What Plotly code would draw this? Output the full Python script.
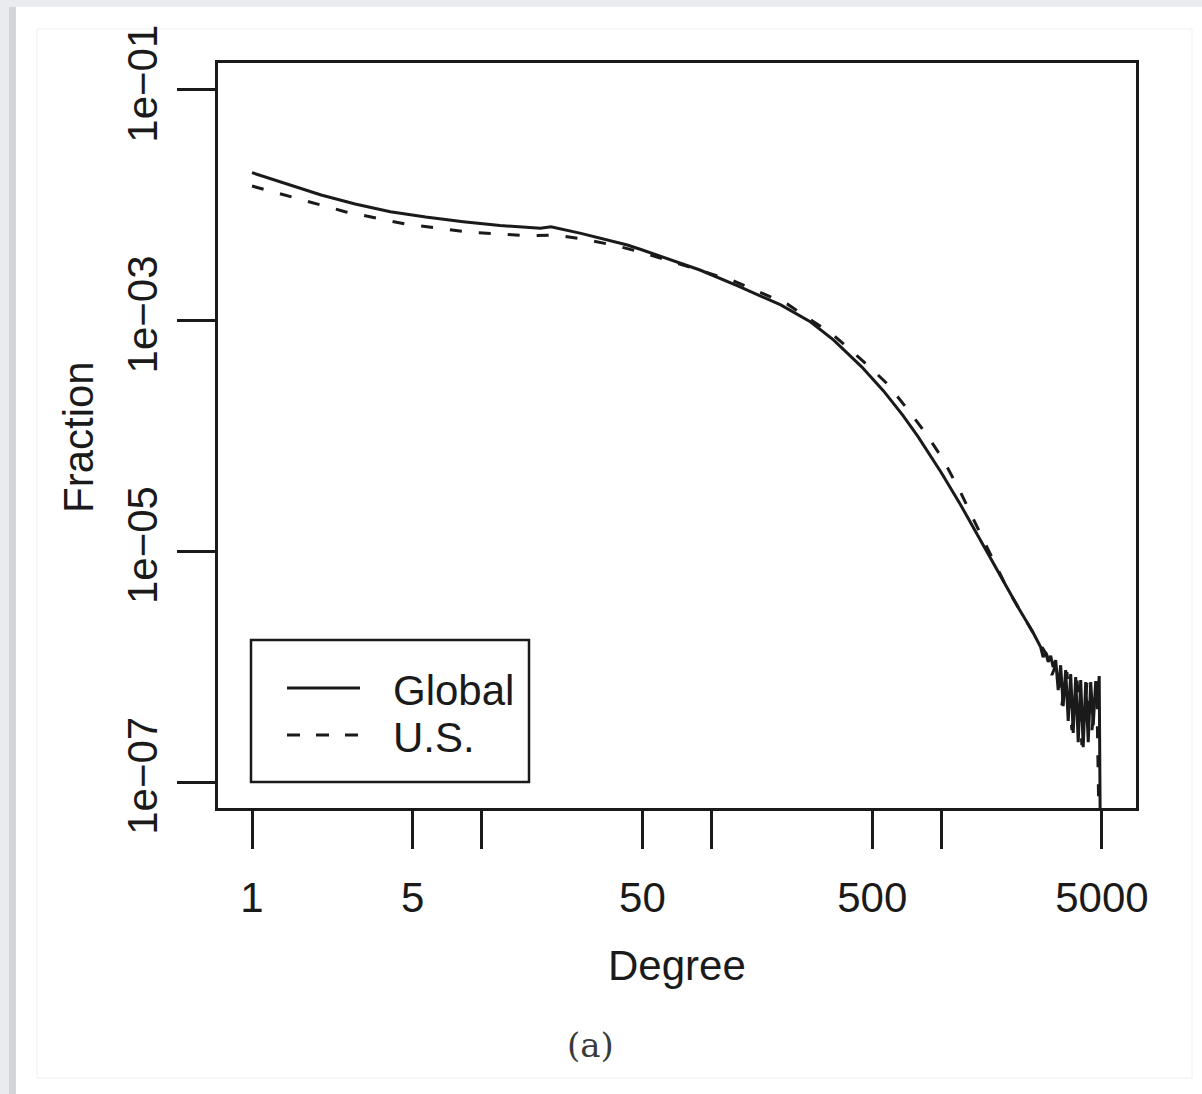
import plotly.graph_objects as go

# ---------------- data ----------------
global_degree = [1, 1.41, 2, 2.81, 4, 5.7, 8.3, 12, 18, 20, 27, 43, 50, 89, 130, 200, 270,
                 340, 450, 560, 680, 790, 1000, 1210, 1500, 1940, 2150, 2500,
                 2704, 2773, 2843, 2916, 2990, 3066, 3144, 3224, 3305, 3389, 3475, 3564,
                 3654, 3747, 3842, 3940, 4040, 4142, 4248, 4356, 4466, 4580, 4696, 4791,
                 4863, 4936]
global_fraction = [1.92e-2, 1.545e-2, 1.23e-2, 1.028e-2, 8.81e-3, 7.92e-3, 7.21e-3, 6.68e-3,
                   6.32e-3, 6.53e-3, 5.71e-3, 4.53e-3, 4.10e-3, 2.75e-3, 2.00e-3, 1.37e-3,
                   9.73e-4, 6.79e-4, 3.98e-4, 2.46e-4, 1.51e-4, 9.93e-5, 4.80e-5, 2.55e-5,
                   1.18e-5, 4.68e-6, 3.31e-6, 2.00e-6,
                   1.48e-6, 1.21e-6, 1.34e-6, 1.10e-6, 1.24e-6, 9.93e-7, 1.14e-6, 6.27e-7,
                   1.03e-6, 4.56e-7, 9.35e-7, 3.38e-7, 8.64e-7, 2.66e-7, 8.13e-7, 2.22e-7,
                   7.66e-7, 2.01e-7, 7.36e-7, 2.22e-7, 7.36e-7, 3.12e-7, 7.51e-7, 5.14e-7,
                   8.30e-7, 1e-8]

us_degree = [1, 1.42, 2.54, 4.64, 8.47, 15.5, 20.9, 28.2, 38.9, 50.5, 124, 214, 339, 491,
             583, 735, 871, 1022, 1213, 1557, 1942, 2496,
             2880, 3028, 3184, 3346, 3518, 3700, 3890, 4090, 4300, 4521, 4743, 4910]
us_fraction = [1.47e-2, 1.21e-2, 8.81e-3, 6.89e-3, 5.90e-3, 5.45e-3, 5.53e-3, 5.07e-3,
               4.44e-3, 3.88e-3, 2.22e-3, 1.39e-3, 7.51e-4, 3.91e-4, 2.82e-4, 1.58e-4,
               1.00e-4, 6.17e-5, 3.24e-5, 1.15e-5, 4.70e-6, 2.00e-6,
               1.26e-6, 8.47e-7, 1.10e-6, 4.65e-7, 8.99e-7, 2.82e-7, 7.82e-7, 2.09e-7,
               7.21e-7, 2.82e-7, 6.94e-7, 1e-8]

x_tick_values = [1, 5, 10, 50, 100, 500, 1000, 5000]
x_tick_labels = ["1", "5", "", "50", "", "500", "", "5000"]
y_tick_values = [1e-1, 1e-3, 1e-5, 1e-7]
y_tick_labels = ["1e\u221201", "1e\u221203", "1e\u221205", "1e\u221207"]
legend_labels = ["Global", "U.S."]

# ---------------- layout helpers ----------------
W, H = 1202, 1094
L, R, T, B = 218, 1136, 63, 808


def px(p):
    return (p - L) / (R - L)


def py(p):
    return (B - p) / (B - T)


FONT = "Liberation Sans, Arial, Helvetica, sans-serif"
INK = "#1a1a1a"

fig = go.Figure()
fig.add_trace(go.Scatter(x=global_degree, y=global_fraction, mode="lines",
                         name=legend_labels[0], showlegend=False,
                         line=dict(color=INK, width=3)))
fig.add_trace(go.Scatter(x=us_degree, y=us_fraction, mode="lines",
                         name=legend_labels[1], showlegend=False,
                         line=dict(color=INK, width=3, dash="12px,17px")))

shapes = [
    # page background panel
    dict(type="rect", xref="paper", yref="paper", x0=px(9), x1=px(16), y0=py(7), y1=py(1094),
         fillcolor="#d3d5d9", line=dict(width=0), layer="below"),
    dict(type="rect", xref="paper", yref="paper", x0=px(16), x1=px(1202), y0=py(7), y1=py(1094),
         fillcolor="white", line=dict(width=0), layer="below"),
    dict(type="rect", xref="paper", yref="paper", x0=px(37), x1=px(1192), y0=py(29), y1=py(1078),
         fillcolor="rgba(0,0,0,0)", line=dict(color="#f0f0f0", width=1), layer="below"),
    # legend box
    dict(type="rect", xref="paper", yref="paper", x0=px(251), x1=px(529), y0=py(640), y1=py(782),
         fillcolor="white", line=dict(color=INK, width=2.5)),
    dict(type="line", xref="paper", yref="paper", x0=px(287), x1=px(360), y0=py(688), y1=py(688),
         line=dict(color=INK, width=3)),
    dict(type="line", xref="paper", yref="paper", x0=px(287), x1=px(360), y0=py(735), y1=py(735),
         line=dict(color=INK, width=3, dash="13px,16px")),
]

annotations = [
    dict(text=legend_labels[0], xref="paper", yref="paper", x=px(391), y=py(690),
         xanchor="left", yanchor="middle", showarrow=False,
         font=dict(family=FONT, size=42, color=INK)),
    dict(text=legend_labels[1], xref="paper", yref="paper", x=px(391), y=py(737),
         xanchor="left", yanchor="middle", showarrow=False,
         font=dict(family=FONT, size=42, color=INK)),
    dict(text="Degree", xref="paper", yref="paper", x=px(677), y=py(965),
         xanchor="center", yanchor="middle", showarrow=False,
         font=dict(family=FONT, size=42, color=INK)),
    dict(text="Fraction", xref="paper", yref="paper", x=px(78), y=py(437),
         xanchor="center", yanchor="middle", showarrow=False, textangle=-90,
         font=dict(family=FONT, size=42, color=INK)),
    dict(text="(a)", xref="paper", yref="paper", x=px(590), y=py(1045),
         xanchor="center", yanchor="middle", showarrow=False,
         font=dict(family="DejaVu Serif, Liberation Serif, serif", size=34, color="#3a3a3a")),
]

fig.update_layout(
    width=W, height=H, autosize=False,
    margin=dict(l=L, r=W - R, t=T, b=H - B, pad=0),
    paper_bgcolor="#e9ebee", plot_bgcolor="white",
    showlegend=False,
    shapes=shapes, annotations=annotations,
    font=dict(family=FONT, size=42, color=INK),
)
fig.update_xaxes(type="log", range=[-0.148, 3.847], tickmode="array",
                 tickvals=x_tick_values, ticktext=x_tick_labels,
                 ticks="outside", ticklen=38, tickwidth=2.5, tickcolor=INK,
                 ticklabelstandoff=13,
                 showline=True, linecolor=INK, linewidth=2.5, mirror=True,
                 showgrid=False, zeroline=False, automargin=False,
                 tickfont=dict(family=FONT, size=42, color=INK))
fig.update_yaxes(type="log", range=[-7.225, -0.766], tickmode="array",
                 tickvals=y_tick_values, ticktext=y_tick_labels, tickangle=-90,
                 ticks="outside", ticklen=38, tickwidth=2.5, tickcolor=INK,
                 ticklabelstandoff=3,
                 showline=True, linecolor=INK, linewidth=2.5, mirror=True,
                 showgrid=False, zeroline=False, automargin=False,
                 tickfont=dict(family=FONT, size=42, color=INK))

fig.write_html("out.html")
